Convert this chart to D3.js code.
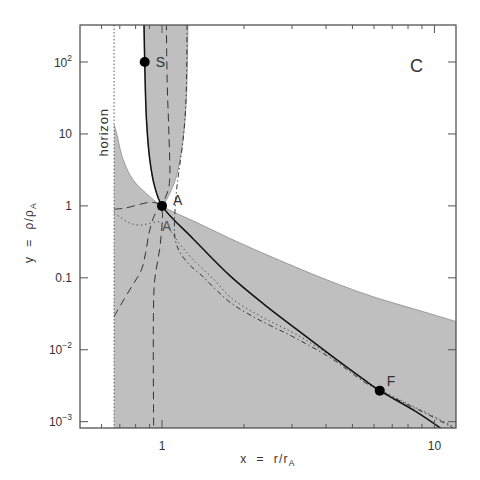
<!DOCTYPE html>
<html>
<head>
<meta charset="utf-8">
<script src="https://cdn.jsdelivr.net/npm/d3@7"></script>
<style>
  body { margin: 0; background: #fff; }
  text { font-family: "Liberation Sans", Arial, sans-serif; fill: #333; }
</style>
</head>
<body>
<div class="chart"></div>
<script>
var svgWidth = 480;
var svgHeight = 480;

var margin = { top: 25, right: 24, bottom: 52, left: 80 };

var width = svgWidth - margin.left - margin.right;
var height = svgHeight - margin.top - margin.bottom;

// axis ranges and ticks
var xDomain = [0.5, 12];
var yDomain = [8.17e-4, 327];
var xMajor = [1, 10];
var xMinor = [0.6, 0.7, 0.8, 0.9, 2, 3, 4, 5, 6, 7, 8, 9];
var yMajor = [1e-3, 1e-2, 0.1, 1, 10, 100];
var yTickBase = ["10", "10", "0.1", "1", "10", "10"];
var yTickExp = ["\u22123", "\u22122", "", "", "", "2"];

var horizonX = 0.667;

// upper edge of the lower shaded region
var shadeEdge = [[0.667, 13.5], [0.681, 10.3], [0.72, 4.4], [0.783, 2.3], [0.877, 1.48],
  [1, 1], [1.3, 0.62], [1.95, 0.3], [3.0, 0.148], [4.2, 0.088], [6.0, 0.054], [8.5, 0.0365], [12, 0.0247]];

// the narrow shaded region above A
var uLeft = [[0.859, 327], [0.864, 100], [0.877, 15.7], [0.902, 4.37], [0.94, 1.85], [1, 1]];
var uRight = [[1, 1], [1.038, 1.21], [1.129, 2.56], [1.194, 8.3], [1.228, 30], [1.245, 327]];

// solutions
var solidCurve = [[0.859, 327], [0.864, 100], [0.877, 15.7], [0.902, 4.37], [0.94, 1.85], [1, 1],
  [1.3, 0.35], [1.77, 0.108], [2.35, 0.0438], [3.13, 0.019], [4.16, 0.0084], [5.53, 0.0038],
  [6.3, 0.0027], [8.5, 0.0014], [10.7, 0.00078]];

var dashCurveA = [[0.667, 0.9], [0.73, 0.93], [0.83, 1.05], [0.9, 1.12], [0.96, 1.08], [1.0, 0.85],
  [1.0, 0.55], [0.98, 0.25], [0.94, 0.093], [0.93, 0.03], [0.932, 8e-4]];

var dashCurveB = [[0.667, 0.029], [0.7, 0.04], [0.773, 0.075], [0.84, 0.129], [0.87, 0.22],
  [0.9, 0.45], [0.94, 0.75], [1.0, 1.05], [1.05, 1.6], [1.067, 2.3], [1.06, 10], [1.045, 50], [1.038, 327]];

var dotCurve = [[0.667, 0.8], [0.7, 0.7], [0.76, 0.58], [0.83, 0.54], [0.9, 0.57], [0.98, 0.6],
  [1.05, 0.5], [1.15, 0.31], [1.3, 0.18], [1.55, 0.095], [1.8, 0.052], [2.2, 0.032], [2.6, 0.023],
  [3.1, 0.0165], [4.2, 0.008], [5.5, 0.0038], [6.3, 0.0028], [7.8, 0.00185], [9.8, 0.00122], [11.7, 0.00086]];

var dashDotCurve = [[1.235, 327], [1.225, 30], [1.195, 8.3], [1.15, 2.8], [1.13, 1.6], [1.115, 0.8],
  [1.11, 0.5], [1.12, 0.33], [1.16, 0.23], [1.263, 0.151], [1.413, 0.104], [1.58, 0.068],
  [1.8, 0.044], [2.155, 0.029], [2.48, 0.022], [3.02, 0.0152], [4.2, 0.0075], [5.5, 0.0036],
  [6.3, 0.0027], [7.8, 0.0018], [9.8, 0.00118], [11.7, 0.00082]];

// marked points
var points = [
  { name: "S", x: 0.864, y: 100, dx: 11, dy: 5 },
  { name: "A", x: 1, y: 1, dx: 11, dy: -1 },
  { name: "F", x: 6.3, y: 0.0027, dx: 7, dy: -5 }
];

var svg = d3.select(".chart")
  .append("svg")
  .attr("width", svgWidth)
  .attr("height", svgHeight);

var chartGroup = svg.append("g")
  .attr("transform", `translate(${margin.left}, ${margin.top})`);

var xScale = d3.scaleLog().domain(xDomain).range([0, width]);
var yScale = d3.scaleLog().domain(yDomain).range([height, 0]);

chartGroup.append("clipPath")
  .attr("id", "plot-clip")
  .append("rect")
  .attr("width", width)
  .attr("height", height);

var plot = chartGroup.append("g").attr("clip-path", "url(#plot-clip)");

var line = d3.line()
  .x(d => xScale(d[0]))
  .y(d => yScale(d[1]))
  .curve(d3.curveCatmullRom.alpha(0.5));

// shaded regions (edge smoothed, then closed along the bottom)
var lowerRegion = [[horizonX, yDomain[0]]].concat(shadeEdge, [[xDomain[1], yDomain[0]]]);
plot.append("path")
  .attr("d", line(shadeEdge) +
    "L" + xScale(lowerRegion[lowerRegion.length - 1][0]) + "," + yScale(yDomain[0]) +
    "L" + xScale(horizonX) + "," + yScale(yDomain[0]) + "Z")
  .attr("fill", "#bfbfbf");

var uRegion = uLeft.concat(uRight.slice(1));
plot.append("path")
  .attr("d", line(uRegion))
  .attr("fill", "#bfbfbf");

[shadeEdge, uLeft, uRight].forEach(function(c) {
  plot.append("path")
    .attr("d", line(c))
    .attr("fill", "none")
    .attr("stroke", "#8a8a8a")
    .attr("stroke-width", 0.8);
});

// horizon
plot.append("line")
  .attr("x1", xScale(horizonX)).attr("x2", xScale(horizonX))
  .attr("y1", 0).attr("y2", height)
  .attr("stroke", "#666")
  .attr("stroke-width", 1.1)
  .attr("stroke-dasharray", "1.5,2");

// curves
var styles = [
  { data: dashCurveA, dash: "8,5", color: "#333", w: 1 },
  { data: dashCurveB, dash: "8,5", color: "#333", w: 1 },
  { data: dotCurve, dash: "1.3,3", color: "#444", w: 1 },
  { data: dashDotCurve, dash: "5,3,1.3,3", color: "#333", w: 1 },
  { data: solidCurve, dash: null, color: "#111", w: 1.5 }
];
styles.forEach(function(s) {
  plot.append("path")
    .attr("d", line(s.data))
    .attr("fill", "none")
    .attr("stroke", s.color)
    .attr("stroke-width", s.w)
    .attr("stroke-dasharray", s.dash);
});

// points and labels
chartGroup.selectAll(".pt")
  .data(points)
  .enter()
  .append("circle")
  .attr("cx", d => xScale(d.x))
  .attr("cy", d => yScale(d.y))
  .attr("r", 5)
  .attr("fill", "#000");

chartGroup.selectAll(".ptlabel")
  .data(points)
  .enter()
  .append("text")
  .attr("x", d => xScale(d.x) + d.dx)
  .attr("y", d => yScale(d.y) + d.dy)
  .attr("font-size", 14)
  .text(d => d.name);

// second Alfven label
chartGroup.append("text")
  .attr("x", xScale(1.0))
  .attr("y", yScale(0.45))
  .attr("font-size", 14)
  .style("fill", "#555")
  .text("A");

chartGroup.append("text")
  .attr("x", xScale(horizonX) - 6)
  .attr("y", yScale(10.5))
  .attr("transform", `rotate(-90, ${xScale(horizonX) - 6}, ${yScale(10.5)})`)
  .attr("text-anchor", "middle")
  .attr("font-size", 13)
  .attr("letter-spacing", 0.8)
  .text("horizon");

chartGroup.append("text")
  .attr("x", width - 46)
  .attr("y", 47)
  .attr("font-size", 18)
  .style("font-weight", 300)
  .text("C");

// frame and ticks
chartGroup.append("rect")
  .attr("width", width)
  .attr("height", height)
  .attr("fill", "none")
  .attr("stroke", "#444")
  .attr("stroke-width", 1.2);

var tickColor = "#555";
function xTicks(vals, len) {
  vals.forEach(function(v) {
    chartGroup.append("line")
      .attr("x1", xScale(v)).attr("x2", xScale(v))
      .attr("y1", height).attr("y2", height - len)
      .attr("stroke", tickColor);
    chartGroup.append("line")
      .attr("x1", xScale(v)).attr("x2", xScale(v))
      .attr("y1", 0).attr("y2", len)
      .attr("stroke", tickColor);
  });
}
xTicks(xMajor, 8);
xTicks(xMinor, 4);

yMajor.forEach(function(v) {
  chartGroup.append("line")
    .attr("x1", 0).attr("x2", 8)
    .attr("y1", yScale(v)).attr("y2", yScale(v))
    .attr("stroke", tickColor);
  chartGroup.append("line")
    .attr("x1", width).attr("x2", width - 8)
    .attr("y1", yScale(v)).attr("y2", yScale(v))
    .attr("stroke", tickColor);
});

chartGroup.selectAll(".xlab")
  .data(xMajor)
  .enter()
  .append("text")
  .attr("x", d => xScale(d))
  .attr("y", height + 22)
  .attr("text-anchor", "middle")
  .attr("font-size", 12)
  .text(d => d);

yMajor.forEach(function(v, i) {
  var t = chartGroup.append("text")
    .attr("x", -8)
    .attr("y", yScale(v) + 4.5)
    .attr("text-anchor", "end")
    .attr("font-size", 12);
  t.append("tspan").text(yTickBase[i]);
  if (yTickExp[i]) {
    t.append("tspan")
      .attr("dy", -6)
      .attr("font-size", 8.5)
      .text(yTickExp[i]);
  }
});

// axis titles
var xt = chartGroup.append("text")
  .attr("x", width / 2)
  .attr("y", height + 35)
  .attr("text-anchor", "middle")
  .attr("font-size", 12)
  .attr("letter-spacing", 1.2)
  .style("white-space", "pre");
xt.append("tspan").text("x  =  r/r");
xt.append("tspan").attr("font-size", 8.5).attr("dy", 3).text("A");

var yt = chartGroup.append("text")
  .attr("transform", `translate(${-47}, ${height / 2 + 6}) rotate(-90)`)
  .attr("text-anchor", "middle")
  .attr("font-size", 12)
  .attr("letter-spacing", 1.2)
  .style("white-space", "pre");
yt.append("tspan").text("y  =  \u03c1/\u03c1");
yt.append("tspan").attr("font-size", 8.5).attr("dy", 3).text("A");
</script>
</body>
</html>
